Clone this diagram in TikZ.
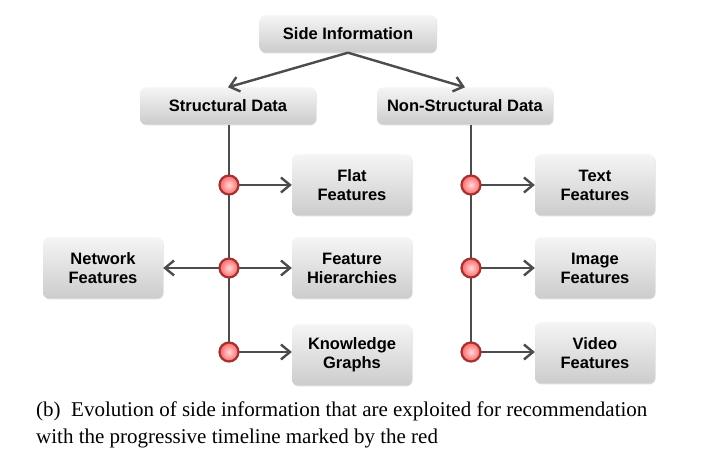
\documentclass[tikz,border=0pt]{standalone}
\usepackage{fontspec}
\setmainfont{Liberation Serif}
\newfontfamily\boxfont{Liberation Sans}
\usetikzlibrary{arrows.meta,shadows}
\begin{document}
\begin{tikzpicture}[x=1pt,y=-1pt,
  box/.style={rounded corners=6pt,top color=gray!8,bottom color=gray!40,draw=none,
    font=\boxfont\bfseries\fontsize{16.5}{19}\selectfont,align=center,
    drop shadow={shadow xshift=0.6pt,shadow yshift=-0.8pt,opacity=0.25}},
  line/.style={draw=gray!60!black,line width=2.4pt},
  arr/.style={line,-{Straight Barb[length=9pt,width=15pt,line width=2.4pt]}},
  dot/.style={circle,minimum size=19pt,inner sep=0pt,draw=red!55!black!80,line width=2.2pt,
    inner color=red!15,outer color=red!60}]
\useasboundingbox (0,0) rectangle (716,465);
\fill[white] (0,0) rectangle (716,465);
\node[box,minimum width=177pt,minimum height=37pt] (si) at (348,34) {Side Information};
\node[box,minimum width=176pt,minimum height=37pt] (sd) at (228,106) {Structural Data};
\node[box,minimum width=176pt,minimum height=37pt] (nsd) at (465,106) {Non-Structural Data};
\tikzset{fb/.style={box,minimum width=120pt,minimum height=61pt}}
\node[fb] (flat) at (352,185) {Flat\\Features};
\node[fb] (hier) at (352,268) {Feature\\Hierarchies};
\node[fb] (kg) at (352,355) {Knowledge\\Graphs};
\node[fb] (net) at (103,268) {Network\\Features};
\node[fb] (text) at (595,185) {Text\\Features};
\node[fb] (img) at (595,268) {Image\\Features};
\node[fb] (vid) at (595,353) {Video\\Features};
\draw[arr] (si.south) -- (sd.north);
\draw[arr] (si.south) -- (nsd.north);
\coordinate (l1) at (229,185); \coordinate (l2) at (229,268); \coordinate (l3) at (229,352);
\coordinate (r1) at (471,185); \coordinate (r2) at (471,268); \coordinate (r3) at (471,352);
\draw[line] (sd.south -| l1) -- (l3);
\draw[line] (nsd.south -| r1) -- (r3);
\draw[arr] (l1) -- (flat.west);
\draw[arr] (l2) -- (hier.west);
\draw[arr] (l3) -- (l3 -| kg.west);
\draw[arr] (l2) -- (net.east);
\draw[arr] (r1) -- (text.west);
\draw[arr] (r2) -- (img.west);
\draw[arr] (r3) -- (r3 -| vid.west);
\foreach \p in {l1,l2,l3,r1,r2,r3} \node[dot] (d\p) at (\p) {};
\node[anchor=north west,align=left,font=\fontsize{21}{27}\selectfont,inner sep=0pt] (cap) at (36,402)
 {(b)\ \ Evolution of side information that are exploited for recommendation\\with the progressive timeline marked by the red};
\end{tikzpicture}
\end{document}
